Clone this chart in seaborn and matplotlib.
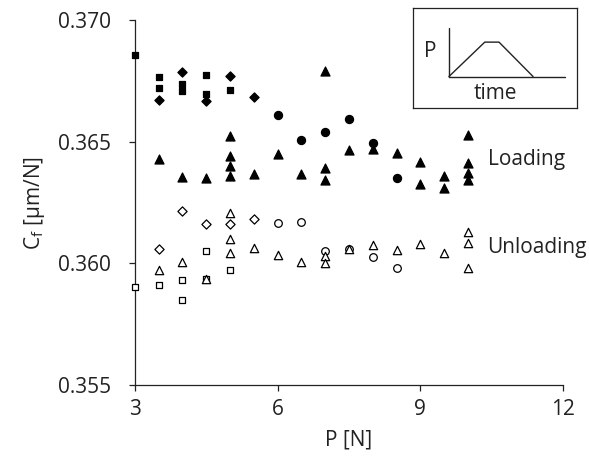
import numpy as np
import pandas as pd
import matplotlib
matplotlib.use("Agg")
import matplotlib.pyplot as plt
import seaborn as sns

# loading (filled markers)
load_sq_P = [3.0, 3.5, 3.5, 4.0, 4.0, 4.5, 4.5, 5.0]
load_sq_Cf = [0.36858, 0.36766, 0.36722, 0.36736, 0.36707, 0.36773, 0.36698, 0.36713]
load_di_P = [3.5, 4.0, 4.5, 5.0, 5.5]
load_di_Cf = [0.36672, 0.36787, 0.36667, 0.36769, 0.36685]
load_ci_P = [6.0, 6.5, 7.0, 7.5, 8.0, 8.5]
load_ci_Cf = [0.36610, 0.36508, 0.36542, 0.36593, 0.36497, 0.36351]
load_tr_P = [3.5, 4.0, 4.5, 5.0, 5.0, 5.0, 5.0, 5.5, 6.0, 6.5, 7.0, 7.0, 7.0, 7.5,
             8.0, 8.5, 9.0, 9.0, 9.5, 9.5, 10.0, 10.0, 10.0, 10.0]
load_tr_Cf = [0.36429, 0.36357, 0.36352, 0.36522, 0.36440, 0.36402, 0.36361, 0.36368,
              0.36448, 0.36368, 0.36793, 0.36393, 0.36344, 0.36467, 0.36470, 0.36456,
              0.36419, 0.36326, 0.36360, 0.36312, 0.36529, 0.36415, 0.36371, 0.36344]

# unloading (open markers)
unl_sq_P = [3.0, 3.5, 4.0, 4.0, 4.5, 4.5, 5.0]
unl_sq_Cf = [0.35902, 0.35913, 0.35931, 0.35850, 0.36051, 0.35935, 0.35974]
unl_di_P = [3.5, 4.0, 4.5, 5.0, 5.5]
unl_di_Cf = [0.36061, 0.36217, 0.36161, 0.36162, 0.36182]
unl_ci_P = [6.0, 6.5, 7.0, 7.5, 8.0, 8.5]
unl_ci_Cf = [0.36168, 0.36169, 0.36053, 0.36058, 0.36028, 0.35983]
unl_tr_P = [3.5, 4.0, 4.5, 5.0, 5.0, 5.0, 5.5, 6.0, 6.5, 7.0, 7.0, 7.5, 8.0, 8.5,
            9.0, 9.5, 10.0, 10.0, 10.0]
unl_tr_Cf = [0.35972, 0.36007, 0.35937, 0.36209, 0.36101, 0.36042, 0.36064, 0.36036,
             0.36006, 0.36030, 0.36000, 0.36060, 0.36076, 0.36056, 0.36080, 0.36042,
             0.36131, 0.36086, 0.35980]

x_ticks = [3, 6, 9, 12]
y_ticks = [0.355, 0.360, 0.365, 0.370]

# inset schematic of load history
inset_t = [0.22, 0.439, 0.526, 0.734]
inset_p = [0.313, 0.657, 0.657, 0.313]

sns.set_style("ticks")
plt.rcParams['font.family'] = ['Open Sans', 'DejaVu Sans']
txt = '#222222'
fs = 15

fig = plt.figure(figsize=(5.89, 4.59), dpi=100)
ax = fig.add_axes([0.229, 0.161, 0.727, 0.795])

series = [
    (load_sq_P, load_sq_Cf, 's', 'black', 22),
    (load_di_P, load_di_Cf, 'D', 'black', 22),
    (load_ci_P, load_ci_Cf, 'o', 'black', 34),
    (load_tr_P, load_tr_Cf, '^', 'black', 42),
    (unl_sq_P, unl_sq_Cf, 's', 'white', 17),
    (unl_di_P, unl_di_Cf, 'D', 'white', 22),
    (unl_ci_P, unl_ci_Cf, 'o', 'white', 30),
    (unl_tr_P, unl_tr_Cf, '^', 'white', 36),
]
for P, Cf, m, fc, s in series:
    df = pd.DataFrame({'P': P, 'Cf': Cf})
    sns.scatterplot(data=df, x='P', y='Cf', marker=m, color=fc, edgecolor='black',
                    linewidth=0.9, s=s, ax=ax, clip_on=False, zorder=3)

ax.set_xlim(3, 12)
ax.set_ylim(0.355, 0.370)
ax.set_xticks(x_ticks)
ax.set_yticks(y_ticks)
ax.set_yticklabels([f'{v:.3f}' for v in y_ticks])
ax.tick_params(labelsize=fs, colors=txt, length=4, width=0.9, direction='out')
ax.tick_params(axis='y', pad=13)
ax.tick_params(axis='x', pad=6)
for sp in ['top', 'right']:
    ax.spines[sp].set_visible(False)
for sp in ['left', 'bottom']:
    ax.spines[sp].set_linewidth(0.9)
    ax.spines[sp].set_color(txt)
ax.set_xlabel('P [N]', fontsize=fs, color=txt, labelpad=7)
ax.set_ylabel('C$_\\mathregular{f}$ [\u00b5m/N]', fontsize=fs, color=txt, labelpad=8)

ax.text(10.42, 0.36426, 'Loading', fontsize=fs, color=txt, va='center', ha='left')
ax.text(10.40, 0.36065, 'Unloading', fontsize=fs, color=txt, va='center', ha='left')

# inset
ins = fig.add_axes([0.701, 0.765, 0.278, 0.218])
ins.set_xlim(0, 1)
ins.set_ylim(0, 1)
ins.set_xticks([])
ins.set_yticks([])
for sp in ins.spines.values():
    sp.set_linewidth(0.9)
    sp.set_color(txt)
ins.plot([0.22, 0.22], [0.313, 0.803], color=txt, lw=1.0)
ins.plot([0.22, 0.927], [0.313, 0.313], color=txt, lw=1.0)
ins.plot(inset_t, inset_p, color=txt, lw=1.0)
ins.text(0.104, 0.563, 'P', fontsize=fs, color=txt, ha='center', va='center')
ins.text(0.504, 0.14, 'time', fontsize=fs, color=txt, ha='center', va='center')

fig.savefig('out.png', dpi=100)
